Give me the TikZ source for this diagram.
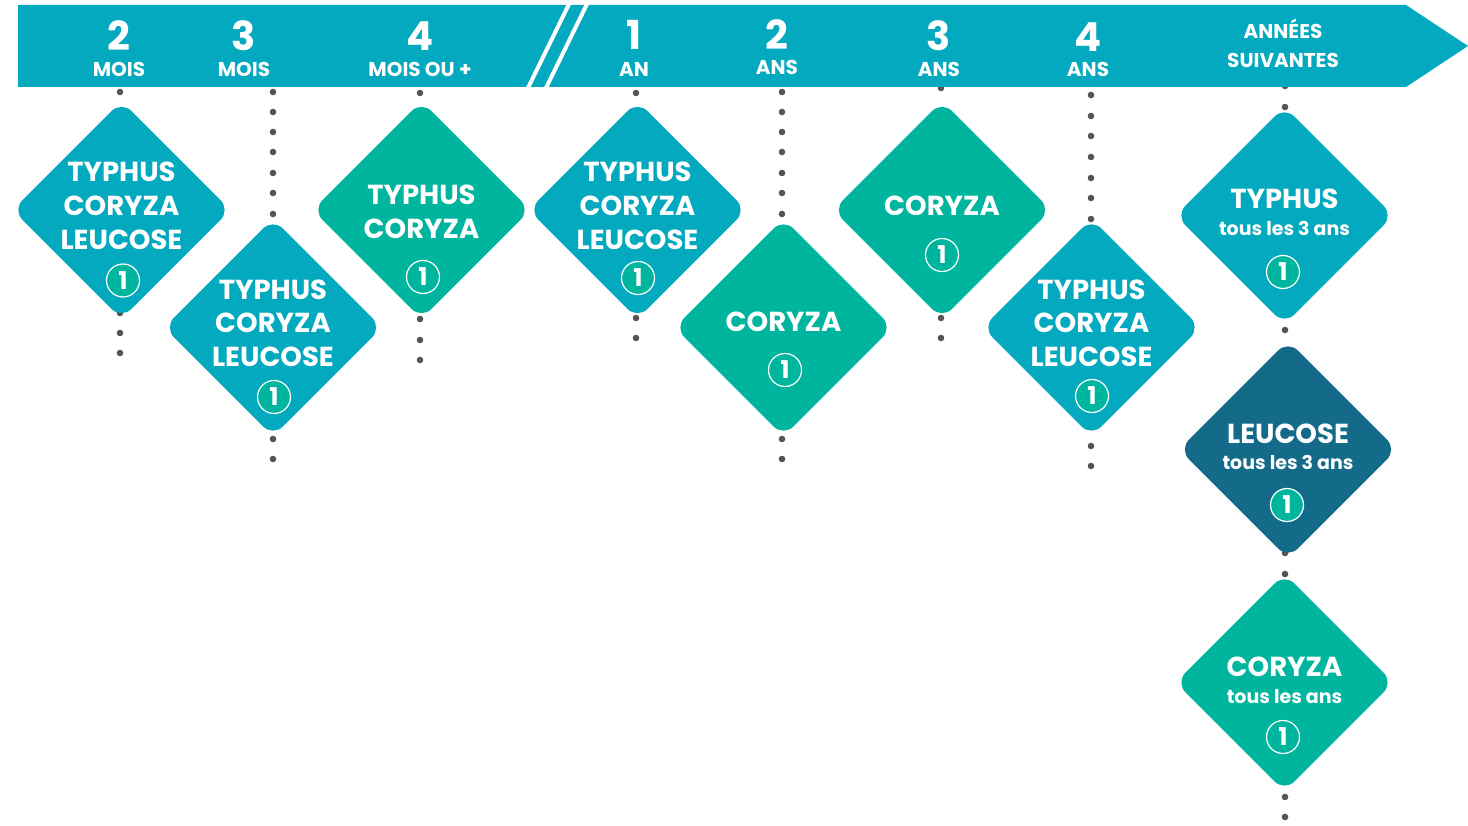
\documentclass[tikz,border=0pt]{standalone}
\usepackage{fontspec}
\setmainfont{Poppins}
\usetikzlibrary{shapes.geometric,calc}
\definecolor{bannerc}{HTML}{03A9BE}
\definecolor{tealc}{HTML}{03A9BE}
\definecolor{greenc}{HTML}{00B59E}
\definecolor{darkc}{HTML}{136B89}
\definecolor{dotc}{HTML}{555555}
\tikzset{
  dia/.style={diamond, aspect=1, minimum size=218pt, inner sep=0pt, rounded corners=14pt, draw=none},
  lbl/.style={anchor=base, text=white, inner sep=0pt, font=\fontsize{27.5}{27.5}\selectfont\bfseries},
  sub/.style={anchor=base, text=white, inner sep=0pt, font=\fontsize{19}{19}\selectfont\bfseries},
  badge/.style={circle, fill=greenc, draw=white, line width=1.2pt, minimum size=33pt, inner sep=0pt, text=white, font=\fontsize{24.5}{24.5}\selectfont\bfseries},
  num/.style={anchor=base, text=white, inner sep=0pt, font=\fontsize{40}{40}\selectfont\bfseries},
  hl/.style={anchor=base, text=white, inner sep=0pt, font=\fontsize{20}{20}\selectfont\bfseries},
  dot/.style={fill=dotc}
}
\begin{document}
\begin{tikzpicture}[x=1pt,y=-1pt]
\useasboundingbox (0,0) rectangle (1468,826);
% dots
\foreach \y in {92,313,333,353} \fill[dot] (120,\y) circle (3.3);
\foreach \y in {92,112,132,152,173,193,214,439,459} \fill[dot] (273,\y) circle (3.3);
\foreach \y in {93,319,340,360} \fill[dot] (420,\y) circle (3.3);
\foreach \y in {93,318,338} \fill[dot] (636,\y) circle (3.3);
\foreach \y in {92,112,132,152,173,193,214,439,459} \fill[dot] (782,\y) circle (3.3);
\foreach \y in {88,318,338} \fill[dot] (941,\y) circle (3.3);
\foreach \y in {95,116,136,157,178,198,219,446,466} \fill[dot] (1091,\y) circle (3.3);
\foreach \y in {86,107,330,553,574,797,817} \fill[dot] (1285,\y) circle (3.3);
% banner
\fill[bannerc] (18,5) -- (1406,5) -- (1468,46) -- (1406,87) -- (18,87) -- cycle;
\draw[white, line width=4pt] (527,90) -- (570,2);
\draw[white, line width=4pt] (545,90) -- (588,2);
% header
\node[num] (h1) at (119,51) {2}; \node[hl] (h1b) at (119,77) {MOIS};
\node[num] (h2) at (244,51) {3}; \node[hl] (h2b) at (244,77) {MOIS};
\node[num] (h3) at (420,51) {4}; \node[hl] (h3b) at (420,77) {MOIS OU +};
\node[num] (h4) at (634,50) {1}; \node[hl] (h4b) at (634,77) {AN};
\node[num] (h5) at (777,50) {2}; \node[hl] (h5b) at (777,75) {ANS};
\node[num] (h6) at (939,51) {3}; \node[hl] (h6b) at (939,77) {ANS};
\node[num] (h7) at (1088,52) {4}; \node[hl] (h7b) at (1088,77) {ANS};
\node[hl] (h8) at (1283,39) {ANNÉES}; \node[hl] (h8b) at (1283,68) {SUIVANTES};
% diamonds
\node[dia, fill=tealc] (d1) at (121.5,210) {};
\node[lbl] at ($(d1)+(0,-28)$) {TYPHUS};
\node[lbl] at ($(d1)+(0,6)$) {CORYZA};
\node[lbl] at ($(d1)+(0,40)$) {LEUCOSE};
\node[badge] at ($(d1)+(1.5,70.5)$) {1};

\node[dia, fill=tealc] (d2) at (273,327.5) {};
\node[lbl] at ($(d2)+(0,-28)$) {TYPHUS};
\node[lbl] at ($(d2)+(0,5)$) {CORYZA};
\node[lbl] at ($(d2)+(0,39)$) {LEUCOSE};
\node[badge] at ($(d2)+(1,69.5)$) {1};

\node[dia, fill=greenc] (d3) at (421.5,210) {};
\node[lbl] at ($(d3)+(0,-5)$) {TYPHUS};
\node[lbl] at ($(d3)+(0,29)$) {CORYZA};
\node[badge] at ($(d3)+(1.5,67)$) {1};

\node[dia, fill=tealc] (d4) at (637.5,210) {};
\node[lbl] at ($(d4)+(0,-28)$) {TYPHUS};
\node[lbl] at ($(d4)+(0,6)$) {CORYZA};
\node[lbl] at ($(d4)+(0,40)$) {LEUCOSE};
\node[badge] at ($(d4)+(0.5,68)$) {1};

\node[dia, fill=greenc] (d5) at (783.5,327.5) {};
\node[lbl] at ($(d5)+(0,4.5)$) {CORYZA};
\node[badge] at ($(d5)+(1.5,42.5)$) {1};

\node[dia, fill=greenc] (d6) at (942,210) {};
\node[lbl] at ($(d6)+(0,6)$) {CORYZA};
\node[badge] at ($(d6)+(0,45)$) {1};

\node[dia, fill=tealc] (d7) at (1091.5,327.5) {};
\node[lbl] at ($(d7)+(0,-28)$) {TYPHUS};
\node[lbl] at ($(d7)+(0,5)$) {CORYZA};
\node[lbl] at ($(d7)+(0,39)$) {LEUCOSE};
\node[badge] at ($(d7)+(0.5,68.5)$) {1};

\node[dia, fill=tealc] (d8) at (1284.5,215.5) {};
\node[lbl] at ($(d8)+(0,-6.5)$) {TYPHUS};
\node[sub] at ($(d8)+(0,20.5)$) {tous les 3 ans};
\node[badge] at ($(d8)+(-1.5,56.5)$) {1};

\node[dia, fill=darkc] (d9) at (1288,449.5) {};
\node[lbl] at ($(d9)+(0,-6.5)$) {LEUCOSE};
\node[sub] at ($(d9)+(0,19.5)$) {tous les 3 ans};
\node[badge] at ($(d9)+(-1,55.5)$) {1};

\node[dia, fill=greenc] (d10) at (1284.5,682.5) {};
\node[lbl] at ($(d10)+(0,-6.5)$) {CORYZA};
\node[sub] at ($(d10)+(0,20.5)$) {tous les ans};
\node[badge] at ($(d10)+(-1.5,54.5)$) {1};
\end{tikzpicture}
\end{document}
